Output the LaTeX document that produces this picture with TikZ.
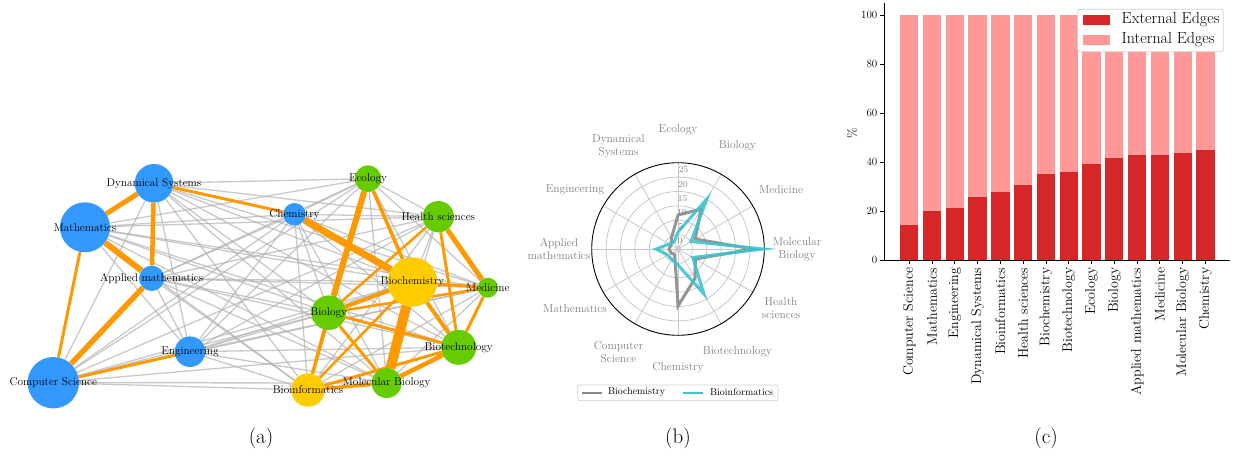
\documentclass[tikz,border=0pt]{standalone}
\usepackage{fontspec}
\usetikzlibrary{calc}
\definecolor{blueN}{HTML}{3399FF}
\definecolor{greenN}{HTML}{66CC00}
\definecolor{yellowN}{HTML}{FFCC00}
\definecolor{orangeE}{HTML}{FF9900}
\definecolor{extC}{HTML}{D62728}
\definecolor{intC}{HTML}{FF9896}
\definecolor{cyanL}{HTML}{3CC4CF}
\definecolor{greyL}{HTML}{8A8A8A}
\definecolor{txtG}{HTML}{808080}
\definecolor{gridG}{HTML}{C8C8C8}
\pgfdeclarelayer{bg}
\pgfsetlayers{bg,main}
\tikzset{
  gedge/.style={draw=black!30, line width=1.3pt, opacity=0.7},
  oedge/.style={draw=orangeE},
  vtx/.style={circle, inner sep=0pt, draw=none},
  vlab/.style={font=\fontsize{11.3}{13}\selectfont, inner sep=0pt},
  gridc/.style={draw=gridG, line width=0.8pt},
  rlab/.style={font=\fontsize{11.5}{13}\selectfont, text=txtG, align=center, inner sep=0pt},
  tlab/.style={font=\fontsize{9}{10}\selectfont, text=txtG, inner sep=0pt},
  radarG/.style={draw=greyL, line width=3pt, opacity=0.9},
  radarC/.style={draw=cyanL, line width=3pt, opacity=0.9},
  captxt/.style={font=\fontsize{21}{23}\selectfont, inner sep=0pt},
  axl/.style={draw=black, line width=0.9pt},
  ytl/.style={font=\fontsize{11}{12}\selectfont, anchor=east, inner sep=0pt},
  xtl/.style={font=\fontsize{14}{15}\selectfont, anchor=east, rotate=90, inner sep=0pt},
  legbox/.style={draw=black!18, fill=white, rounded corners=2pt, line width=0.8pt},
}
\begin{document}
\begin{tikzpicture}[x=1pt,y=-1pt]
\useasboundingbox (0,0) rectangle (1238,455);

% ---------------- panel (a) ----------------
\foreach \n/\x/\y/\r/\c in {
  CS/53.3/382.7/25.7/blueN,
  Math/85/227.3/25/blueN,
  DS/154/183.3/19.3/blueN,
  AM/151.7/278.3/12.7/blueN,
  Eng/190/351.7/15.3/blueN,
  Chem/294.5/214.3/11.3/blueN,
  Eco/368/178.7/13.3/greenN,
  HS/438.3/216.7/15.7/greenN,
  BC/412.5/282/24.7/yellowN,
  Med/487.8/287.7/10/greenN,
  Bio/328.7/312.7/17.3/greenN,
  BT/458.7/347.3/17.5/greenN,
  MB/386.7/383/15/greenN,
  BI/308/390/16.7/yellowN}{
  \pgfmathsetmacro\dd{2*\r}
  \node[vtx, fill=\c, minimum size=\dd pt] (\n) at (\x,\y) {};
}

\begin{pgfonlayer}{bg}
\foreach \a/\b in {CS/DS,CS/Chem,CS/Eco,CS/HS,CS/BC,CS/Med,CS/Bio,CS/BT,CS/MB,CS/BI,
  Math/Eng,Math/Chem,Math/Eco,Math/HS,Math/BC,Math/Med,Math/Bio,Math/BT,Math/MB,Math/BI,
  DS/Eng,DS/Eco,DS/HS,DS/BC,DS/Med,DS/Bio,DS/BT,DS/MB,DS/BI,
  AM/Eng,AM/Chem,AM/Eco,AM/HS,AM/BC,AM/Med,AM/Bio,AM/BT,AM/MB,AM/BI,
  Eng/Chem,Eng/Eco,Eng/HS,Eng/BC,Eng/Med,Eng/Bio,Eng/BT,Eng/MB,Eng/BI,
  Chem/Eco,Chem/HS,Chem/Med,Chem/Bio,Chem/BT,Chem/MB,Chem/BI,
  Eco/HS,Eco/Med,Eco/BT,Eco/MB,HS/BC,HS/MB,HS/BI,Med/MB,Med/BI}
  \draw[gedge] (\a) -- (\b);
\foreach \a/\b/\w in {DS/Math/5,DS/AM/4.5,Math/AM/6,Math/CS/3,AM/CS/5.5,Eng/CS/3,DS/Chem/3,
  Chem/BC/7,Eco/Bio/6,Eco/BI/3,Eco/BC/3.5,HS/Med/5,HS/BT/3,HS/Bio/2.5,BC/Med/3,BC/Bio/4,
  BC/MB/10,BC/BT/4,BC/BI/2.5,Med/BT/3,Bio/Med/2.5,Bio/BT/3,Bio/MB/3,Bio/BI/3,MB/BT/4.5,
  BI/BT/3,BI/MB/3.5}
  \draw[oedge, line width=\w pt] (\a) -- (\b);
\end{pgfonlayer}

\foreach \n/\t in {CS/Computer Science, Math/Mathematics, DS/Dynamical Systems,
  AM/Applied mathematics, Eng/Engineering, Chem/Chemistry, Eco/Ecology,
  HS/Health sciences, BC/Biochemistry, Med/Medicine, Bio/Biology,
  BT/Biotechnology, MB/Molecular Biology, BI/Bioinformatics}
  \node[vlab] (\n l) at (\n.center) {\t};

\node[captxt] (capa) at (261,438) {(a)};

% ---------------- panel (b) ----------------
\begin{scope}[shift={(678,249)}]
  \foreach \r in {14.38,28.77,43.15,57.53,71.92}
    \draw[gridc] (0pt,0pt) circle[radius=\r pt];
  \draw[gridc] (0pt,0pt) circle[radius=2.5pt];
  \foreach \a in {0,30,...,330}
    \draw[gridc] (0pt,0pt) -- (\a:86.3pt);
  \draw[black, line width=0.9pt] (0pt,0pt) circle[radius=86.3pt];
  \draw[radarG, line join=miter] (90:34pt) -- (60:46pt) -- (30:20pt) -- (0:75pt) -- (-30:20pt) -- (-60:34pt) -- (-90:57pt) -- (-120:6.5pt) -- (-150:8pt) -- (180:9pt) -- (150:8pt) -- (120:13pt) -- cycle;
  \draw[radarC, line join=miter] (90:17pt) -- (60:58pt) -- (30:15pt) -- (0:85pt) -- (-30:17pt) -- (-60:52pt) -- (-90:16pt) -- (-120:12pt) -- (-150:12pt) -- (180:22pt) -- (150:10pt) -- (120:8pt) -- cycle;
  \foreach \a/\t/\nm in {90/Ecology/rEco, 60/Biology/rBio, 30/Medicine/rMed,
     0/{Molecular\\Biology}/rMB, -30/{Health\\sciences}/rHS, -60/Biotechnology/rBT,
     -90/Chemistry/rChem, -120/{Computer\\Science}/rCS, -150/Mathematics/rMath,
     180/{Applied\\mathematics}/rAM, 150/Engineering/rEng, 120/{Dynamical\\Systems}/rDS}
    \node[rlab] (\nm) at (\a:119pt) {\t};
\end{scope}
\foreach \v/\x/\y in {0/680/241, 5/681/226.5, 10/682/212.5, 15/682.5/198.5, 20/683/184.3, 25/683.5/170}
  \node[tlab] (tk\v) at (\x,\y) {\v};

\draw[legbox] (577.7,385) rectangle (778,400.7);
\coordinate (lgA) at (582,392.8);
\coordinate (lgB) at (602,392.8);
\coordinate (lgC) at (683,392.8);
\coordinate (lgD) at (703,392.8);
\draw[draw=greyL, line width=2.6pt] (lgA) -- (lgB);
\draw[draw=cyanL, line width=2.6pt] (lgC) -- (lgD);
\node[font=\fontsize{9.9}{11}\selectfont, anchor=west, inner sep=0pt] (lgt1) at (608,392.5) {Biochemistry};
\node[font=\fontsize{9.9}{11}\selectfont, anchor=west, inner sep=0pt] (lgt2) at (710,392.5) {Bioinformatics};

\node[captxt] (capb) at (678,438) {(b)};

% ---------------- panel (c) ----------------
\foreach \v/\t [count=\i from 0] in {14.5/Computer Science, 20.1/Mathematics, 21.4/Engineering,
   25.7/Dynamical Systems, 28.0/Bioinformatics, 30.7/Health sciences, 35.3/Biochemistry,
   35.9/Biotechnology, 39.3/Ecology, 41.8/Biology, 42.9/Applied mathematics,
   43.1/Medicine, 43.6/Molecular Biology, 45.0/Chemistry}{
  \pgfmathsetmacro\xc{909.2+22.79*\i}
  \pgfmathsetmacro\yt{260.3-2.453*\v}
  \fill[intC] (\xc-9.15,15) rectangle (\xc+9.15,\yt);
  \fill[extC] (\xc-9.15,\yt) rectangle (\xc+9.15,260.3);
  \draw[axl] (\xc,260.3) -- (\xc,264);
  \node[xtl] (xl\i) at (\xc,267.5) {\t};
}
\draw[axl] (884.3,2.7) -- (884.3,260.3) -- (1230,260.3);
\foreach \v in {0,20,40,60,80,100}{
  \pgfmathsetmacro\yy{260.3-2.453*\v}
  \draw[axl] (880.3,\yy) -- (884.3,\yy);
  \node[ytl] (yl\v) at (877.5,\yy) {\v};
}
\node[font=\fontsize{13}{14}\selectfont, rotate=90, inner sep=0pt] (ylab) at (852,133) {\%};

\draw[legbox] (1077.7,9.3) rectangle (1223.3,51.7);
\fill[extC] (1083.3,15) rectangle (1110,25);
\fill[intC] (1083.3,35.2) rectangle (1110,44.7);
\node[font=\fontsize{16}{17}\selectfont, anchor=west, inner sep=0pt] (le1) at (1121.5,20) {External Edges};
\node[font=\fontsize{16}{17}\selectfont, anchor=west, inner sep=0pt] (le2) at (1121.5,40) {Internal Edges};

\node[captxt] (capc) at (1046,438) {(c)};
\end{tikzpicture}
\end{document}
